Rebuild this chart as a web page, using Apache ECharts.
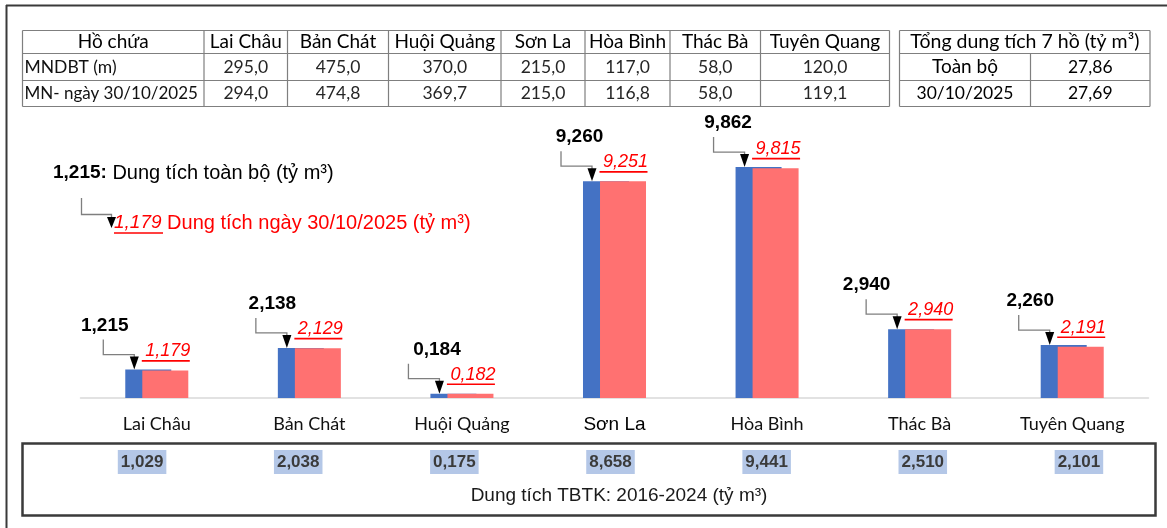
<!DOCTYPE html>
<html>
<head>
<meta charset="utf-8">
<title>Dung tích hồ chứa</title>
<script src="https://cdn.jsdelivr.net/npm/echarts@6/dist/echarts.min.js"></script>
<style>
    html, body { margin: 0; padding: 0; background: #fff; }
    #main { width: 1167px; height: 528px; }
</style>
</head>
<body>
<div id="main"></div>
<script>
// các hồ chứa
var hoChua = ['Lai Châu', 'Bản Chát', 'Huội Quảng', 'Sơn La', 'Hòa Bình', 'Thác Bà', 'Tuyên Quang'];
// dung tích toàn bộ (tỷ m3)
var dtToanBo = [1.215, 2.138, 0.184, 9.260, 9.862, 2.940, 2.260];
// dung tích ngày 30/10/2025 (tỷ m3)
var dtHienTai = [1.179, 2.129, 0.182, 9.251, 9.815, 2.940, 2.191];
// dung tích TBTK 2016-2024 (tỷ m3)
var dtTBTK = [1.029, 2.038, 0.175, 8.658, 9.441, 2.510, 2.101];
// mực nước (m)
var mndbt = [295.0, 475.0, 370.0, 215.0, 117.0, 58.0, 120.0];
var mnHienTai = [294.0, 474.8, 369.7, 215.0, 116.8, 58.0, 119.1];
// tổng dung tích 7 hồ
var tongToanBo = 27.86;
var tongHienTai = 27.69;

// lệch nhãn đen so với tâm cột (px) - chỉ là bố cục
var nhanLech = [-52, -37, -25, -35, -39, -53, -42];

var ARIAL = '"Liberation Sans", Arial, sans-serif';
var NARROW = '"Liberation Sans Narrow", "Arial Narrow", "Liberation Sans", sans-serif';
var CALIBRI = 'Lato, "Noto Sans", sans-serif';

function fmt(v, n) {
    return v.toFixed(n).replace('.', ',');
}

// ---- bảng phía trên (graphic) ----
var graphic = [];
function line(x1, y1, x2, y2, color, w) {
    graphic.push({type: 'line', silent: true, shape: {x1: x1, y1: y1, x2: x2, y2: y2},
        style: {stroke: color, lineWidth: w}});
}
function text(x, y, s, opt) {
    opt = opt || {};
    graphic.push({type: 'text', silent: true, x: x, y: y, style: {
        text: s, fontFamily: opt.family || CALIBRI, fontSize: opt.size || 16,
        fontWeight: opt.weight || 'normal', fontStyle: opt.style || 'normal',
        fill: opt.color || '#111', align: opt.align || 'center', verticalAlign: 'middle',
        rich: opt.rich
    }});
}

// khung ngoài
line(6, 5.5, 1167, 5.5, '#3a3a3a', 2);
line(6.5, 5, 6.5, 528, '#3a3a3a', 2);

var colX = [22.5, 204, 287.5, 388.5, 501, 585, 670, 760.5, 889.5];
var rowY = [30.5, 53.5, 80.5, 106.5];
rowY.forEach(function (y) { line(colX[0], y, colX[8], y, '#7f7f7f', 1.2); });
colX.forEach(function (x) { line(x, rowY[0], x, rowY[3], '#7f7f7f', 1.2); });
var rowMid = [42, 67, 93.5];
var TEN = 19, SO = 17.5;
text((colX[0] + colX[1]) / 2, rowMid[0], 'Hồ chứa', {size: TEN, color: '#000'});
text(colX[0] + 2, rowMid[1], 'MNDBT (m)', {size: SO, align: 'left'});
text(colX[0] + 2, rowMid[2], 'MN- ngày 30/10/2025', {size: 17, align: 'left'});
hoChua.forEach(function (name, i) {
    var cx = (colX[i + 1] + colX[i + 2]) / 2;
    text(cx, rowMid[0], name, {size: TEN, color: '#000'});
    text(cx, rowMid[1], fmt(mndbt[i], 1), {size: SO, color: '#262626'});
    text(cx, rowMid[2], fmt(mnHienTai[i], 1), {size: SO, color: '#262626'});
});

// bảng tổng
var tX = [899.5, 1030.5, 1150];
rowY.forEach(function (y) { line(tX[0], y, tX[2], y, '#7f7f7f', 1.2); });
line(tX[0], rowY[0], tX[0], rowY[3], '#7f7f7f', 1.2);
line(tX[2], rowY[0], tX[2], rowY[3], '#7f7f7f', 1.2);
line(tX[1], rowY[1], tX[1], rowY[3], '#7f7f7f', 1.2);
text((tX[0] + tX[2]) / 2, rowMid[0], 'Tổng dung tích 7 hồ (tỷ m³)', {size: 19.5, color: '#000'});
text((tX[0] + tX[1]) / 2, rowMid[1], 'Toàn bộ', {size: TEN, color: '#000'});
text((tX[1] + tX[2]) / 2, rowMid[1], fmt(tongToanBo, 2), {size: SO, color: '#000'});
text((tX[0] + tX[1]) / 2, rowMid[2], '30/10/2025', {size: SO, color: '#000'});
text((tX[1] + tX[2]) / 2, rowMid[2], fmt(tongHienTai, 2), {size: SO, color: '#000'});

// chú giải góc trái
text(53, 173, '{b|' + fmt(dtToanBo[0], 3) + ':}{n| Dung tích toàn bộ (tỷ m³)}', {
    align: 'left', family: ARIAL, size: 19,
    rich: {
        b: {fontFamily: ARIAL, fontSize: 19, fontWeight: 'bold', fill: '#000', color: '#000'},
        n: {fontFamily: ARIAL, fontSize: 20, fill: '#000', color: '#000'}
    }
});
graphic.push({type: 'polyline', silent: true,
    shape: {points: [[81.5, 198], [81.5, 214.5], [111.5, 214.5], [111.5, 218]]},
    style: {stroke: '#7f7f7f', lineWidth: 1.3, fill: null}});
graphic.push({type: 'polygon', silent: true,
    shape: {points: [[107, 217], [116, 217], [111.5, 228]]}, style: {fill: '#000'}});
text(114, 223, '{r|' + fmt(dtHienTai[0], 3) + '}{n| Dung tích ngày 30/10/2025 (tỷ m³)}', {
    align: 'left', family: ARIAL, size: 19,
    rich: {
        r: {fontFamily: ARIAL, fontSize: 19, fontStyle: 'italic', fill: '#ff0000', color: '#ff0000'},
        n: {fontFamily: ARIAL, fontSize: 20, fill: '#ff0000', color: '#ff0000'}
    }
});
line(114, 233, 163, 233, '#ff0000', 1.6);

// khung TBTK phía dưới
graphic.push({type: 'rect', silent: true, shape: {x: 22.5, y: 443.5, width: 1133, height: 72},
    style: {fill: null, stroke: '#3a3a3a', lineWidth: 2.5}});
text(619, 496, 'Dung tích TBTK: 2016-2024 (tỷ m³)', {family: NARROW, size: 19, color: '#1a1a1a'});

// ---- biểu đồ ----
var myChart = echarts.init(document.getElementById('main'));

var option = {
    backgroundColor: '#fff',
    animation: false,
    grid: [
        {left: 80.5, right: 18.5, top: 117, bottom: 130},
        {left: 64, right: 10, top: 449, height: 1}
    ],
    xAxis: [
        {
            type: 'category',
            gridIndex: 0,
            data: hoChua,
            axisLine: {lineStyle: {color: '#d9d9d9', width: 1.5}},
            axisTick: {show: false},
            axisLabel: {
                margin: 17,
                fontFamily: CALIBRI,
                fontSize: 18,
                color: '#111',
                formatter: function (v) {
                    return v === 'Sơn La' ? '{lon|' + v + '}' : v;
                },
                rich: {
                    lon: {fontFamily: ARIAL, fontSize: 19, color: '#000'}
                }
            }
        },
        {
            // giá trị TBTK
            type: 'category',
            gridIndex: 1,
            data: dtTBTK.map(function (v) { return fmt(v, 3); }),
            axisLine: {show: false},
            axisTick: {show: false},
            axisLabel: {
                margin: 0,
                fontFamily: NARROW,
                fontWeight: 'bold',
                fontSize: 17,
                color: '#3b3b3b',
                backgroundColor: '#b4c7e7',
                padding: [4, 3, 3, 3]
            }
        }
    ],
    yAxis: [
        {type: 'value', gridIndex: 0, min: 0, max: 12, show: false},
        {type: 'value', gridIndex: 1, show: false}
    ],
    series: [
        {
            name: 'Dung tích toàn bộ',
            type: 'bar',
            data: dtToanBo,
            barWidth: 46,
            barGap: '-63%',
            itemStyle: {color: '#4472c4'},
            silent: true
        },
        {
            name: 'Dung tích ngày 30/10/2025',
            type: 'bar',
            data: dtHienTai,
            barWidth: 46,
            barGap: '-63%',
            itemStyle: {color: '#ff7171'},
            silent: true
        },
        {
            // mũi tên + nhãn số
            type: 'custom',
            silent: true,
            z: 10,
            data: hoChua.map(function (n, i) { return [i, dtToanBo[i], dtHienTai[i]]; }),
            encode: {x: 0, y: 1},
            renderItem: function (params, api) {
                var i = params.dataIndex;
                var p = api.coord([api.value(0), api.value(1)]);
                var redTop = api.coord([api.value(0), api.value(2)])[1];
                var cx = p[0], y = p[1];
                var ax = cx - 22.5, vx = cx - 53.5;
                return {
                    type: 'group',
                    children: [
                        {type: 'polyline', shape: {points: [[vx, y - 30], [vx, y - 15], [ax, y - 15], [ax, y - 12]]},
                            style: {stroke: '#7f7f7f', lineWidth: 1.3, fill: null}},
                        {type: 'polygon', shape: {points: [[ax - 4.5, y - 13], [ax + 4.5, y - 13], [ax, y]]},
                            style: {fill: '#000'}},
                        {type: 'text', x: cx + nhanLech[i], y: y - 44,
                            style: {text: fmt(api.value(1), 3), fontFamily: ARIAL, fontSize: 19, fontWeight: 'bold',
                                fill: '#000', align: 'center', verticalAlign: 'middle'}},
                        {type: 'text', x: cx + 11, y: redTop - 19,
                            style: {text: fmt(api.value(2), 3), fontFamily: ARIAL, fontSize: 18, fontStyle: 'italic',
                                fill: '#ff0000', align: 'center', verticalAlign: 'middle'}},
                        {type: 'line', shape: {x1: cx - 15, y1: redTop - 9.5, x2: cx + 33, y2: redTop - 9.5},
                            style: {stroke: '#ff0000', lineWidth: 1.6}}
                    ]
                };
            }
        }
    ],
    graphic: graphic
};

myChart.setOption(option);
</script>
</body>
</html>
